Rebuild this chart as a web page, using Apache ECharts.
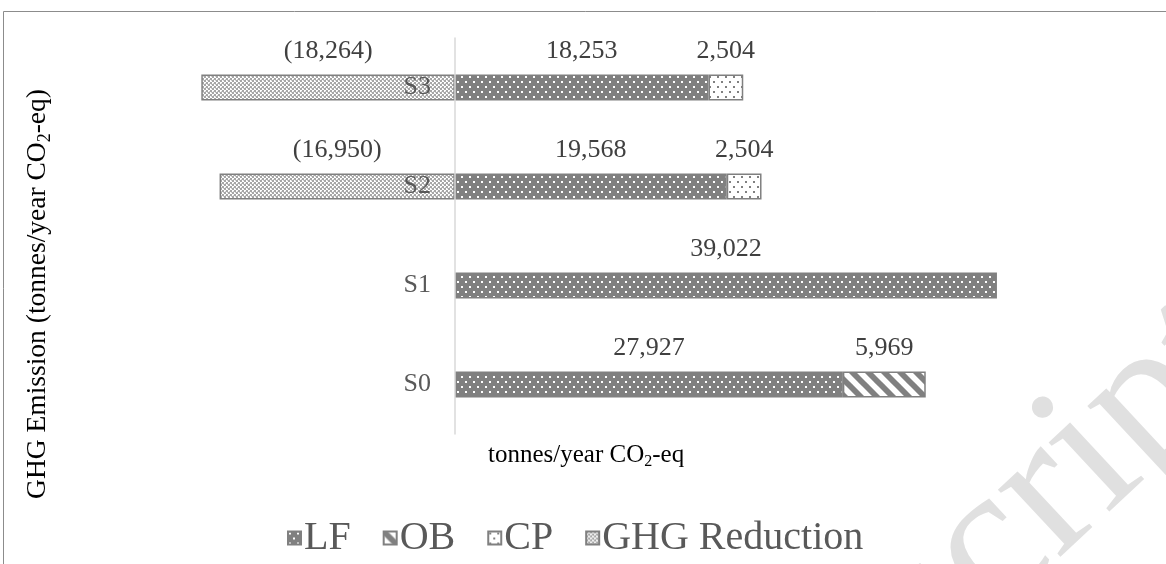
<!DOCTYPE html>
<html>
<head>
<meta charset="utf-8">
<script src="https://cdn.jsdelivr.net/npm/echarts@6/dist/echarts.min.js"></script>
<style>
  html, body { margin: 0; padding: 0; background: #ffffff; }
  #chart { width: 1166px; height: 564px; }
</style>
</head>
<body>
<div id="chart"></div>
<script>
// Scenarios, bottom to top on the category axis
const scenarios = ['S0', 'S1', 'S2', 'S3'];
// Emissions by source, tonnes/year CO2-eq
const lfValues = [27927, 39022, 19568, 18253];
const obValues = [5969, null, null, null];
const cpValues = [null, null, 2504, 2504];
const reductionValues = [null, null, -16950, -18264];
const seriesNames = ['LF', 'OB', 'CP', 'GHG Reduction'];

const FONT = "'Liberation Serif', 'Times New Roman', serif";
const GREY = '#808080';

// Build a repeating canvas fill
function pattern(w, h, draw) {
  const c = document.createElement('canvas');
  c.width = w; c.height = h;
  const g = c.getContext('2d');
  draw(g, w, h);
  return { image: c, repeat: 'repeat' };
}

// Dark grey with small white dots
const lfFill = pattern(8, 10, (g, w, h) => {
  g.fillStyle = GREY; g.fillRect(0, 0, w, h);
  g.fillStyle = '#ffffff';
  g.fillRect(1, 1, 2, 2);
  g.fillRect(5, 6, 2, 2);
});
// White with wide diagonal grey stripes
const obFill = pattern(16, 16, (g, w, h) => {
  g.fillStyle = '#ffffff'; g.fillRect(0, 0, w, h);
  g.strokeStyle = GREY; g.lineWidth = 5.8; g.lineCap = 'square';
  [-16, 0, 16].forEach(dx => {
    g.beginPath(); g.moveTo(dx - 2, -2); g.lineTo(dx + 18, 18); g.stroke();
  });
});
// White with small grey dots
const cpFill = pattern(8, 10, (g, w, h) => {
  g.fillStyle = '#ffffff'; g.fillRect(0, 0, w, h);
  g.fillStyle = GREY;
  g.fillRect(1, 1, 2, 2);
  g.fillRect(5, 6, 2, 2);
});
// Fine light-grey checker
const redFill = pattern(4, 4, (g, w, h) => {
  g.fillStyle = '#ffffff'; g.fillRect(0, 0, w, h);
  g.fillStyle = '#a6a6a6';
  g.fillRect(0, 0, 2, 2);
  g.fillRect(2, 2, 2, 2);
  g.fillStyle = '#cfcfcf';
  g.fillRect(3, 0, 1, 1);
  g.fillRect(1, 3, 1, 1);
});

const fmt = v => Math.abs(v).toLocaleString('en-US');

function barSeries(name, data, fill, labelFmt) {
  return {
    name, type: 'bar', stack: 'total', data,
    barWidth: 26,
    itemStyle: { color: fill, borderColor: GREY, borderWidth: 1.5 },
    label: {
      show: true, position: 'top', distance: 10,
      fontFamily: FONT, fontSize: 26, color: '#404040',
      formatter: p => labelFmt(p.value)
    }
  };
}

const chart = echarts.init(document.getElementById('chart'), null, { renderer: 'canvas' });

const gridLeft = 177.2;
const zeroX = 455;

chart.setOption({
  backgroundColor: '#ffffff',
  animation: false,
  textStyle: { fontFamily: FONT },
  grid: { left: gridLeft, width: 861.1, top: 38, height: 396, containLabel: false },
  xAxis: {
    type: 'value', min: -20000, max: 42000,
    axisLine: { show: false }, axisTick: { show: false },
    axisLabel: { show: false }, splitLine: { show: false }
  },
  yAxis: {
    type: 'category', data: scenarios, z: 10,
    axisLine: { onZero: true, lineStyle: { color: '#d9d9d9', width: 1.5 } },
    axisTick: { show: false },
    // category names sit just left of the zero line, over the bars
    axisLabel: { color: '#595959', fontFamily: FONT, fontSize: 26, margin: gridLeft - (zeroX - 24) }
  },
  legend: {
    bottom: 1, left: 282,
    itemWidth: 13, itemHeight: 13, itemGap: 32,
    icon: 'rect',
    textStyle: { fontFamily: FONT, fontSize: 40, color: '#595959', padding: [0, 0, 0, -2] },
    data: seriesNames
  },
  series: [
    barSeries(seriesNames[0], lfValues, lfFill, fmt),
    barSeries(seriesNames[1], obValues, obFill, fmt),
    barSeries(seriesNames[2], cpValues, cpFill, fmt),
    barSeries(seriesNames[3], reductionValues, redFill, v => '(' + fmt(v) + ')')
  ],
  graphic: [
    // outer frame
    {
      type: 'rect', z: -5, silent: true,
      shape: { x: 3.5, y: 11.5, width: 1180, height: 600 },
      style: { fill: null, stroke: '#8c8c8c', lineWidth: 1 }
    },
    // faint diagonal watermark
    {
      type: 'text', z: -10, silent: true,
      x: 1293, y: 405, rotation: 0.75,
      style: {
        text: 'Manuscript', fontFamily: FONT, fontSize: 200,
        fill: '#e0e0e0', textAlign: 'right', textVerticalAlign: 'bottom'
      }
    },
    // value axis title
    {
      type: 'text', silent: true,
      x: 488, y: 455,
      style: {
        text: '{n|tonnes/year CO}{s|2}{n|-eq}',
        textAlign: 'left', textVerticalAlign: 'middle',
        rich: {
          n: { fontFamily: FONT, fontSize: 25, color: '#595959' },
          s: { fontFamily: FONT, fontSize: 16, color: '#595959', padding: [13, 0, 0, 0] }
        }
      }
    },
    // vertical title
    {
      type: 'text', silent: true,
      x: 38, y: 294, rotation: Math.PI / 2,
      style: {
        text: '{n|GHG Emission (tonnes/year CO}{s|2}{n|-eq)}',
        textAlign: 'center', textVerticalAlign: 'middle',
        rich: {
          n: { fontFamily: FONT, fontSize: 27.5, color: '#000000' },
          s: { fontFamily: FONT, fontSize: 18, color: '#000000', padding: [14, 0, 0, 0] }
        }
      }
    }
  ]
});
</script>
</body>
</html>
